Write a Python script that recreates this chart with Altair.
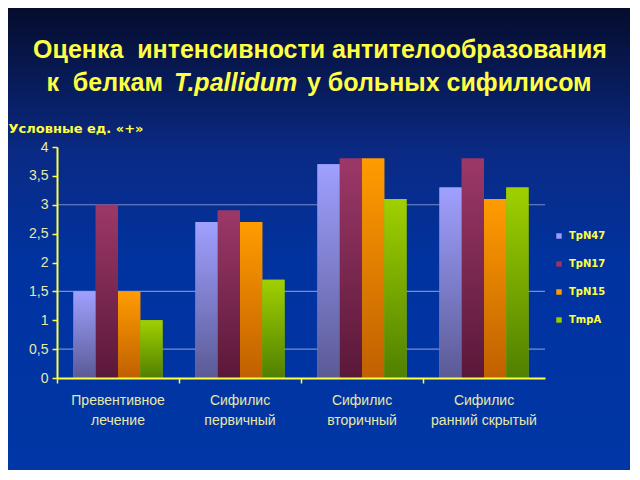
import altair as alt
import pandas as pd

categories = ["Превентивное|лечение", "Сифилис|первичный", "Сифилис|вторичный", "Сифилис|ранний скрытый"]
series = ["TpN47", "TpN17", "TpN15", "TmpA"]
values = {
    "TpN47": [1.5, 2.7, 3.7, 3.3],
    "TpN17": [3.0, 2.9, 3.8, 3.8],
    "TpN15": [1.5, 2.7, 3.8, 3.1],
    "TmpA": [1.0, 1.7, 3.1, 3.3],
}
solid = ["#9999ff", "#993366", "#ff9900", "#99cc00"]
grad = {
    "TpN47": ("#a0a0ff", "#5a5a96"),
    "TpN17": ("#9c3868", "#5a1838"),
    "TpN15": ("#ff9c00", "#c06000"),
    "TmpA": ("#a0d000", "#508000"),
}
grid_values = [0.5, 1.5, 3.0]

rows = []
for s in series:
    for c, v in zip(categories, values[s]):
        rows.append({"cat": c, "series": s, "value": v})
df = pd.DataFrame(rows)

W, H = 488, 231
yellow = "#ffff44"
khaki = "#e8e8a8"

xscale = alt.Scale(paddingInner=0.27, paddingOuter=0.135)
yscale = alt.Scale(domain=[0, 4])
xenc = alt.X("cat:N", sort=categories, scale=xscale, axis=None)
xoff = alt.XOffset("series:N", sort=series, scale=alt.Scale(domain=series, paddingInner=0, paddingOuter=0))
yenc = alt.Y("value:Q", scale=yscale,
             axis=alt.Axis(values=[0, 0.5, 1, 1.5, 2, 2.5, 3, 3.5, 4], grid=False, zindex=2,
                           orient="left",
                           labelExpr="replace(toString(datum.value), '.', ',')",
                           labelColor=khaki, labelFont="Liberation Sans", labelFontSize=14,
                           labelPadding=4, domainColor=yellow, domainWidth=2, tickColor=yellow,
                           tickSize=5, tickWidth=1.5,
                           title="Условные ед. «+»", titleAngle=0, titleColor=yellow,
                           titleFont="DejaVu Sans", titleFontSize=13, titleFontWeight="bold",
                           titleAlign="left", titleBaseline="middle", titleX=-49, titleY=-19))

one = pd.DataFrame({"a": [0]})

bg = alt.Chart(one).mark_rect(
    color=alt.Gradient(gradient="linear", x1=0, x2=0, y1=0, y2=1,
                       stops=[alt.GradientStop(offset=0, color="#050a26"),
                              alt.GradientStop(offset=0.32, color="#0a2a85"),
                              alt.GradientStop(offset=0.55, color="#0033a0"),
                              alt.GradientStop(offset=1, color="#0036a6")])
).encode(x=alt.value(-60), x2=alt.value(640), y=alt.value(-150), y2=alt.value(340))

gridlayer = alt.Chart(pd.DataFrame({"g": grid_values})).mark_rule(color="#7a8cc4", strokeWidth=1.2).encode(
    y=alt.Y("g:Q", scale=yscale, axis=None))

base_bars = alt.Chart(df).mark_bar().encode(
    x=xenc, xOffset=xoff, y=yenc,
    color=alt.Color("series:N", sort=series, scale=alt.Scale(domain=series, range=solid),
                    legend=alt.Legend(title=None, orient="none", legendX=497, legendY=84,
                                      symbolType="square", symbolSize=30, symbolStrokeWidth=0,
                                      labelColor=yellow, labelFont="DejaVu Sans", labelFontSize=10,
                                      labelFontWeight="bold", rowPadding=18, labelOffset=5)))

grad_layers = []
for s in series:
    top, bot = grad[s]
    grad_layers.append(
        alt.Chart(df).transform_filter(alt.datum.series == s).mark_bar(
            color=alt.Gradient(gradient="linear", x1=0, x2=0, y1=0, y2=1,
                               stops=[alt.GradientStop(offset=0, color=top),
                                      alt.GradientStop(offset=1, color=bot)])
        ).encode(x=xenc, xOffset=xoff, y=alt.Y("value:Q", scale=yscale, axis=None))
    )

xaxis_ticks = alt.Chart(df).mark_bar(opacity=0).encode(
    x=alt.X("cat:N", sort=categories, scale=xscale,
            axis=alt.Axis(title=None, labels=False, orient="bottom", bandPosition=0.5, tickOffset=-61,
                          domainColor=yellow, domainWidth=2,
                          tickColor=yellow, tickSize=5, tickWidth=1.5, zindex=2)),
    y=alt.Y("value:Q", scale=yscale, axis=None))

xaxis_labels = alt.Chart(df).mark_bar(opacity=0).encode(
    x=alt.X("cat:N", sort=categories, scale=xscale,
            axis=alt.Axis(title=None, ticks=False, domain=False, labelAngle=0, zindex=2, orient="bottom",
                          labelExpr="split(datum.label, '|')", labelColor=khaki,
                          labelFont="Liberation Sans", labelFontSize=14, labelPadding=15,
                          labelLineHeight=20)),
    y=alt.Y("value:Q", scale=yscale, axis=None))

tfont = "Liberation Sans"
TS = 25
title1 = alt.Chart(one).mark_text(text="Оценка\u00a0 интенсивности антителообразования", font=tfont,
                                  fontSize=TS, fontWeight="bold", color=yellow, align="center",
                                  baseline="middle").encode(x=alt.value(263), y=alt.value(-97))
title2a = alt.Chart(one).mark_text(text="к\u00a0 белкам", font=tfont, fontSize=TS, fontWeight="bold",
                                   color=yellow, align="right", baseline="middle").encode(
    x=alt.value(106), y=alt.value(-64))
title2b = alt.Chart(one).mark_text(text="T.pallidum", font=tfont, fontSize=TS, fontWeight="bold",
                                   fontStyle="italic", color=yellow, align="left",
                                   baseline="middle").encode(x=alt.value(117), y=alt.value(-64))
title2c = alt.Chart(one).mark_text(text="у больных сифилисом", font=tfont, fontSize=TS,
                                   fontWeight="bold", color=yellow, align="left",
                                   baseline="middle").encode(x=alt.value(250), y=alt.value(-64))

chart = alt.layer(
    bg, gridlayer, base_bars, *grad_layers, xaxis_ticks, xaxis_labels,
    title1, title2a, title2b, title2c
).resolve_axis(x="independent", y="independent").properties(
    width=W, height=H,
    autosize=alt.AutoSizeParams(type="none"),
    padding={"left": 49, "top": 139, "right": 85, "bottom": 92},
    background="#0033a0",
).configure_view(stroke=None)

chart.save("out.html", embed_options={"renderer": "svg", "actions": False})
